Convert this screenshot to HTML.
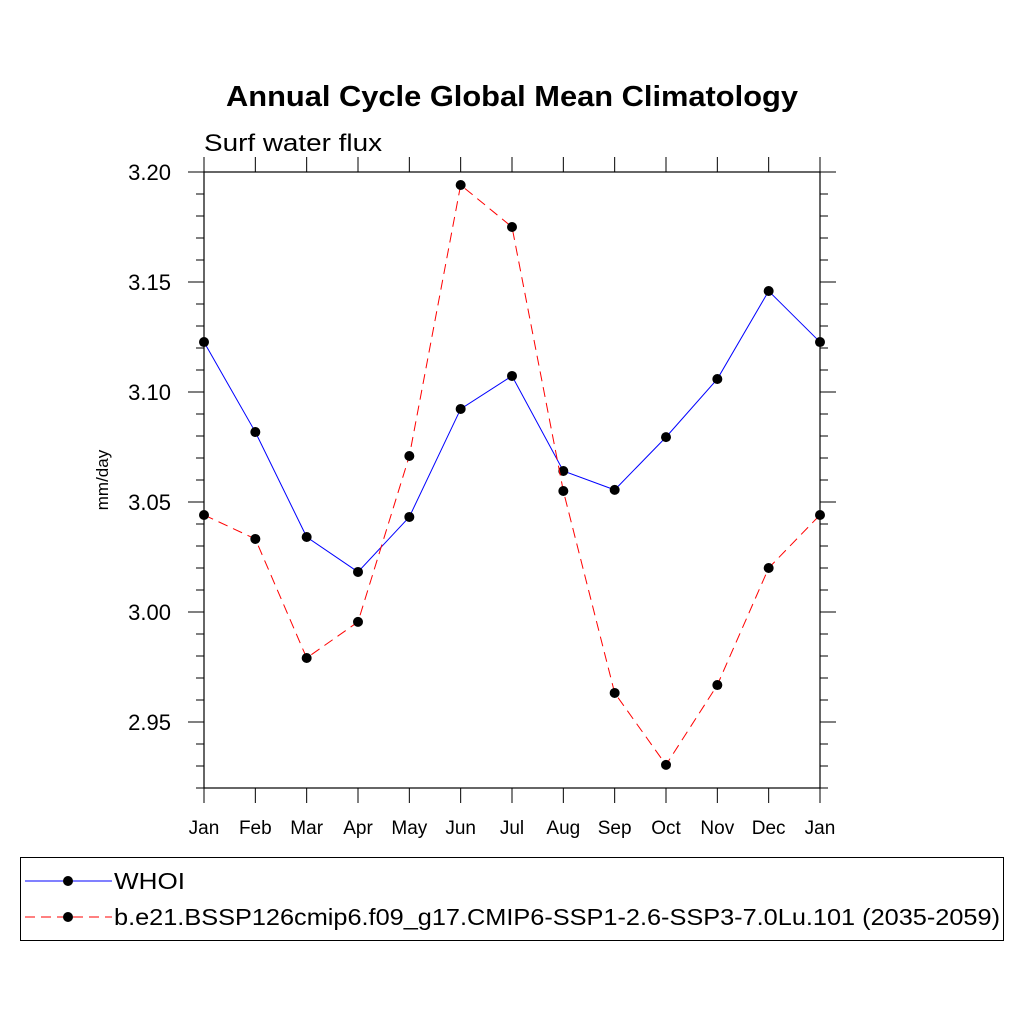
<!DOCTYPE html>
<html><head><meta charset="utf-8"><style>body{margin:0;background:#fff}svg{display:block;font-family:"Liberation Sans",sans-serif}</style></head>
<body>
<svg id="chart" width="1024" height="1024" viewBox="0 0 1024 1024">
<text x="226" y="106" textLength="572" lengthAdjust="spacingAndGlyphs" font-size="29" font-weight="bold">Annual Cycle Global Mean Climatology</text>
<text x="204" y="151" textLength="178" lengthAdjust="spacingAndGlyphs" font-size="24">Surf water flux</text>
<text transform="translate(108,480) rotate(-90)" text-anchor="middle" font-size="17">mm/day</text>
<g id="axes"></g>
<g id="series"></g>
<rect x="20.5" y="857.5" width="983" height="83" fill="none" stroke="#000" stroke-width="1"/>
<g>
<line x1="25" y1="881" x2="112" y2="881" stroke="#00f" stroke-width="1"/>
<circle cx="68" cy="881" r="5" fill="#000"/>
<text x="114" y="889" font-size="23" textLength="71" lengthAdjust="spacingAndGlyphs">WHOI</text></g>
<g>
<line x1="25" y1="917" x2="112" y2="917" stroke="#f00" stroke-width="1" stroke-dasharray="10,6"/>
<circle cx="68" cy="917" r="5" fill="#000"/>
<text x="114" y="925" font-size="23" textLength="886" lengthAdjust="spacingAndGlyphs">b.e21.BSSP126cmip6.f09_g17.CMIP6-SSP1-2.6-SSP3-7.0Lu.101 (2035-2059)</text></g>
</svg>
<script>
const months=["Jan","Feb","Mar","Apr","May","Jun","Jul","Aug","Sep","Oct","Nov","Dec","Jan"];
const whoi=[3.1227,3.0818,3.0341,3.0182,3.0432,3.0923,3.1073,3.0641,3.0555,3.0795,3.1059,3.1459,3.1227];
const model=[3.0441,3.0332,2.9791,2.9955,3.0709,3.1941,3.175,3.055,2.9632,2.9305,2.9668,3.02,3.0441];
const yTicks=["2.95","3.00","3.05","3.10","3.15","3.20"];
const NS="http://www.w3.org/2000/svg";
const L=204,R=820,T=172,B=788,yMin=2.92,yMax=3.20;
const xs=i=>L+(R-L)*i/(months.length-1);
const ys=v=>B-(v-yMin)/(yMax-yMin)*(B-T);
function mk(tag,a,parent){const e=document.createElementNS(NS,tag);for(const k in a)e.setAttribute(k,a[k]);parent.appendChild(e);return e;}
const ax=document.getElementById('axes');
const frame=mk('rect',{x:L,y:T,width:R-L,height:B-T,fill:'none',stroke:'#000','stroke-width':1.2},ax);


months.forEach((m,i)=>{const x=xs(i);
mk('line',{x1:x,y1:B,x2:x,y2:B+15,stroke:'#000'},ax);
mk('line',{x1:x,y1:T,x2:x,y2:T-15,stroke:'#000'},ax);
const t=mk('text',{x:x,y:B+46,'text-anchor':'middle','font-size':19},ax);t.textContent=m;

});
for(let k=0;k<=28;k++){const v=yMin+k*0.01;const y=ys(v);const r=Math.round(v*100)%5;const major=r===0;
const len=major?16:8;
mk('line',{x1:L,y1:y,x2:L-len,y2:y,stroke:'#000'},ax);
mk('line',{x1:R,y1:y,x2:R+len,y2:y,stroke:'#000'},ax);}
yTicks.forEach(s=>{const y=ys(parseFloat(s));const t=mk('text',{x:L-33,y:y+8,'text-anchor':'end','font-size':22},ax);t.textContent=s;

});
const sg=document.getElementById('series');
function series(data,color,dash,name){
const g=mk('g',{},sg);


mk('polyline',{points:data.map((v,i)=>xs(i)+','+ys(v)).join(' '),fill:'none',stroke:color,'stroke-width':1,'stroke-dasharray':dash},g);
data.forEach((v,i)=>{const c=mk('circle',{cx:xs(i),cy:ys(v),r:5,fill:'#000'},g);

});}
series(whoi,'#00f','none','series-whoi');
series(model,'#f00','10,6','series-model');
</script>
</body></html>
